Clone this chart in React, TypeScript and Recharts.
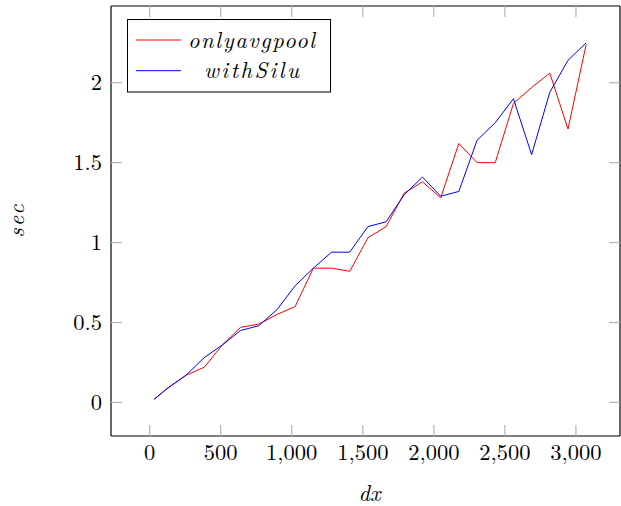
import { LineChart, Line, XAxis, YAxis, Legend } from 'recharts';

const dxValues = [32, 128, 256, 384, 512, 640, 768, 896, 1024, 1152, 1280, 1408, 1536, 1664, 1792, 1920, 2048, 2176, 2304, 2432, 2560, 2688, 2816, 2944, 3072];
const onlyAvgPool = [0.02, 0.09, 0.17, 0.22, 0.36, 0.47, 0.49, 0.55, 0.6, 0.84, 0.84, 0.82, 1.03, 1.1, 1.31, 1.38, 1.28, 1.62, 1.5, 1.5, 1.87, 1.97, 2.06, 1.71, 2.24];
const withSilu = [0.02, 0.09, 0.17, 0.28, 0.36, 0.45, 0.48, 0.58, 0.73, 0.84, 0.94, 0.94, 1.1, 1.13, 1.3, 1.41, 1.29, 1.32, 1.64, 1.75, 1.9, 1.55, 1.94, 2.14, 2.25];
const xTicks = [0, 500, 1000, 1500, 2000, 2500, 3000];
const yTicks = [0, 0.5, 1, 1.5, 2];

const data = dxValues.map((dx, i) => ({ dx, avg: onlyAvgPool[i], silu: withSilu[i] }));

const FONT = "'Latin Modern Roman'";
const TICK_GRAY = '#b4b4b4';
const TICK_LEN = 11;
const legendTextWidths = [127, 95];

const textStyle = { fontFamily: FONT, fontSize: 22.5 };
const italicStyle = { fontFamily: FONT, fontSize: 22.5, fontStyle: 'italic' as const };

function BottomTick({ x, y, payload }: any) {
  return (
    <g>
      <line x1={x} x2={x} y1={y} y2={y - TICK_LEN} stroke={TICK_GRAY} strokeWidth={1.2} />
      <text x={x} y={y + 23.5} textAnchor="middle" style={textStyle} fill="#000">
        {Number(payload.value).toLocaleString('en-US')}
      </text>
    </g>
  );
}

function TopTick({ x, y }: any) {
  return <line x1={x} x2={x} y1={y} y2={y + TICK_LEN} stroke={TICK_GRAY} strokeWidth={1.2} />;
}

function LeftTick({ x, y, payload }: any) {
  return (
    <g>
      <line x1={x} x2={x + TICK_LEN} y1={y} y2={y} stroke={TICK_GRAY} strokeWidth={1.2} />
      <text x={x - 9} y={y} dy="0.33em" textAnchor="end" style={textStyle} fill="#000">
        {payload.value}
      </text>
    </g>
  );
}

function RightTick({ x, y }: any) {
  return <line x1={x} x2={x - TICK_LEN} y1={y} y2={y} stroke={TICK_GRAY} strokeWidth={1.2} />;
}

function LegendBox({ payload }: any) {
  return (
    <svg width={205} height={75} style={{ display: 'block' }}>
      <rect x={0.5} y={0.5} width={203} height={72.5} fill="#fff" stroke="#000" strokeWidth={1} />
      {(payload || []).map((entry: any, i: number) => (
        <g key={entry.value}>
          <line x1={9} x2={54} y1={21 + i * 30.7} y2={21 + i * 30.7} stroke={entry.color} strokeWidth={1} />
          <text
            x={124.5}
            y={28.5 + i * 30}
            textAnchor="middle"
            style={italicStyle}
            textLength={legendTextWidths[i]}
            lengthAdjust="spacing"
            fill="#000"
          >
            {entry.value}
          </text>
        </g>
      ))}
    </svg>
  );
}

export default function App() {
  return (
    <div>
      <style>{'body{margin:0}'}</style>
      <LineChart width={621} height={506} data={data} margin={{ top: 5, right: 0, left: 0, bottom: 0 }}>
        <XAxis
          dataKey="dx"
          type="number"
          domain={[-272, 3310]}
          ticks={xTicks}
          interval={0}
          allowDataOverflow
          height={70}
          tickSize={0}
          tickMargin={0}
          tickLine={false}
          axisLine={{ stroke: '#000', strokeWidth: 1.2 }}
          tick={<BottomTick />}
          label={(props: any) => {
            const vb = props.viewBox;
            return (
              <text x={vb.x + vb.width / 2 + 4} y={vb.y + 65} textAnchor="middle" style={italicStyle}>
                dx
              </text>
            );
          }}
        />
        <XAxis
          xAxisId="top"
          orientation="top"
          dataKey="dx"
          type="number"
          domain={[-272, 3310]}
          ticks={xTicks}
          interval={0}
          allowDataOverflow
          height={1}
          tickSize={0}
          tickMargin={0}
          tickLine={false}
          axisLine={{ stroke: '#000', strokeWidth: 1.2 }}
          tick={<TopTick />}
        />
        <YAxis
          type="number"
          domain={[-0.21, 2.48]}
          ticks={yTicks}
          interval={0}
          allowDataOverflow
          width={111}
          tickSize={0}
          tickMargin={0}
          tickLine={false}
          axisLine={{ stroke: '#000', strokeWidth: 1.2 }}
          tick={<LeftTick />}
          label={(props: any) => {
            const vb = props.viewBox;
            const cx = vb.x + 24;
            const cy = vb.y + vb.height / 2;
            return (
              <text x={cx} y={cy} transform={`rotate(-90, ${cx}, ${cy})`} textAnchor="middle" style={italicStyle} textLength={33} lengthAdjust="spacing">
                sec
              </text>
            );
          }}
        />
        <YAxis
          yAxisId="right"
          orientation="right"
          type="number"
          domain={[-0.21, 2.48]}
          ticks={yTicks}
          interval={0}
          allowDataOverflow
          width={1}
          tickSize={0}
          tickMargin={0}
          tickLine={false}
          axisLine={{ stroke: '#000', strokeWidth: 1.2 }}
          tick={<RightTick />}
        />
        <Legend
          layout="vertical"
          align="center"
          verticalAlign="middle"
          content={<LegendBox />}
          wrapperStyle={{ position: 'absolute', top: 19, left: 127, width: 205, height: 75 }}
        />
        <Line type="linear" dataKey="avg" name="onlyavgpool" stroke="#ff0000" strokeWidth={1} dot={false} isAnimationActive={false} />
        <Line type="linear" dataKey="silu" name="withSilu" stroke="#0000ff" strokeWidth={1} dot={false} isAnimationActive={false} />
      </LineChart>
    </div>
  );
}
